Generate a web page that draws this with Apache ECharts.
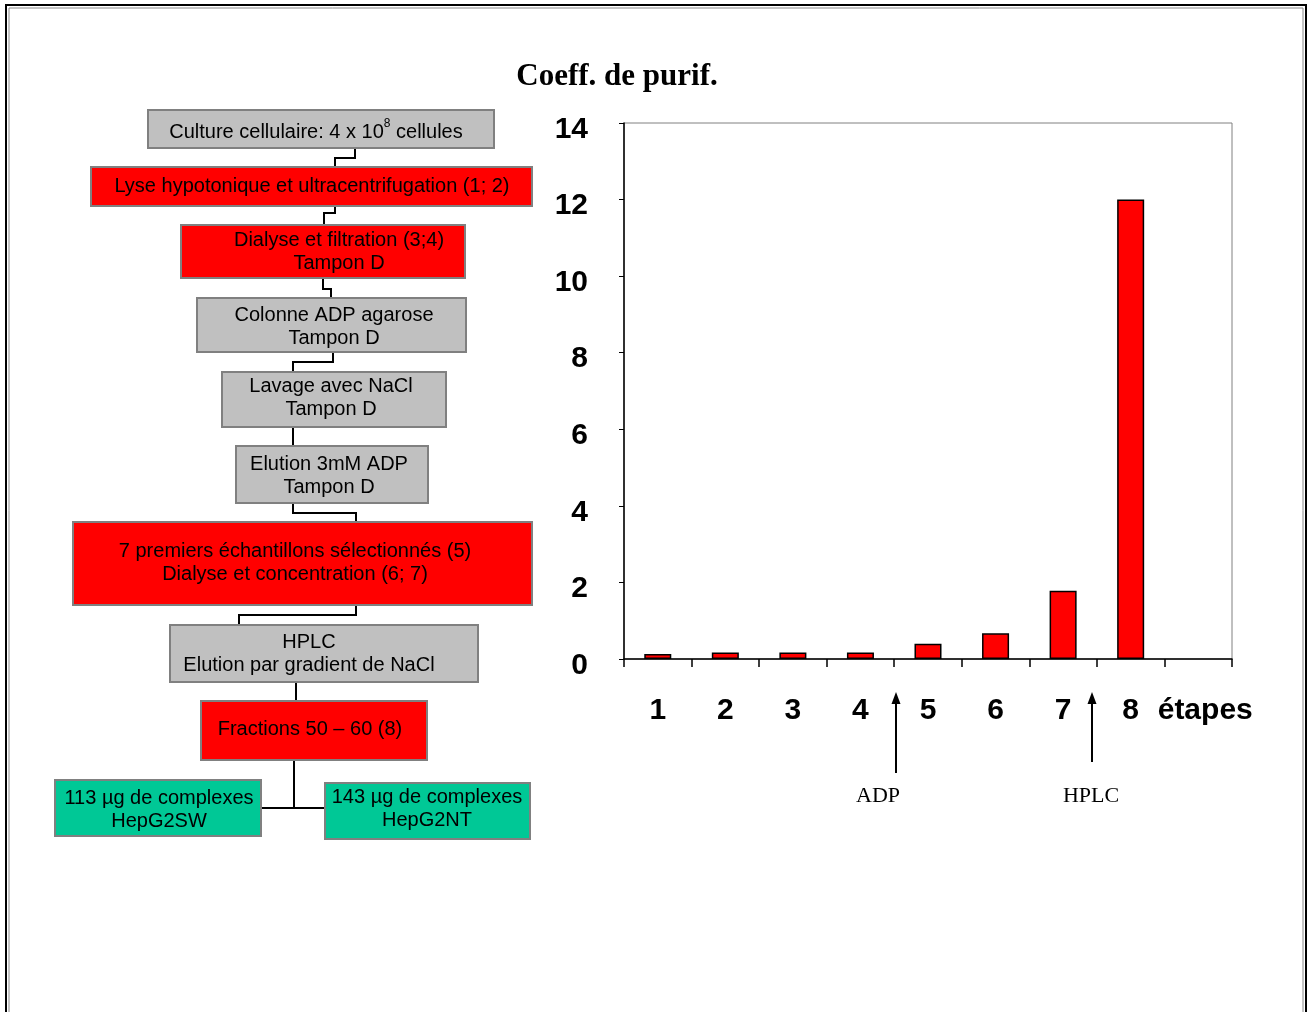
<!DOCTYPE html>
<html>
<head>
<meta charset="utf-8">
<script src="https://cdn.jsdelivr.net/npm/echarts@6/dist/echarts.min.js"></script>
<style>
html,body{margin:0;padding:0;background:#fff;}
#main{width:1312px;height:1012px;}
</style>
</head>
<body>
<div id="main"></div>
<script>
// ---- chart data ----
const categories = ['1', '2', '3', '4', '5', '6', '7', '8', 'étapes'];
const coeffValues = [0.13, 0.17, 0.17, 0.17, 0.40, 0.67, 1.78, 12.0];
const chartTitle = 'Coeff. de purif.';
const annotations = ['ADP', 'HPLC'];

// ---- flowchart texts ----
const flowTexts = [
  '{a|Culture cellulaire: 4 x 10}{s|8}{a| cellules}',
  'Lyse hypotonique et ultracentrifugation (1; 2)',
  'Dialyse et filtration (3;4)\nTampon D',
  'Colonne ADP agarose\nTampon D',
  'Lavage avec NaCl\nTampon D',
  'Elution 3mM ADP\nTampon D',
  '7 premiers échantillons sélectionnés (5)\nDialyse et concentration (6; 7)',
  'HPLC\nElution par gradient de NaCl',
  'Fractions 50 – 60 (8)',
  '113 µg de complexes\nHepG2SW',
  '143 µg de complexes\nHepG2NT'
];

// layout of the flowchart (x, y, w, h, fill, text centre)
const GRAY = '#c0c0c0', RED = '#ff0000', GREEN = '#00c896';
const boxLayout = [
  [148, 110, 346, 38, GRAY, 316, 130],
  [91, 167, 441, 39, RED, 312, 186],
  [181, 225, 284, 53, RED, 339, 252],
  [197, 298, 269, 54, GRAY, 334, 327],
  [222, 372, 224, 55, GRAY, 331, 398],
  [236, 446, 192, 57, GRAY, 329, 476],
  [73, 522, 459, 83, RED, 295, 563],
  [170, 625, 308, 57, GRAY, 309, 654],
  [201, 701, 226, 59, RED, 310, 729],
  [55, 780, 206, 56, GREEN, 159, 810],
  [325, 783, 205, 56, GREEN, 427, 809]
];
const connectors = [
  [[355,148],[355,158],[335,158],[335,167]],
  [[335,206],[335,213],[324,213],[324,225]],
  [[323,278],[323,289],[331,289],[331,298]],
  [[333,352],[333,362],[293,362],[293,372]],
  [[293,427],[293,446]],
  [[293,503],[293,513],[356,513],[356,522]],
  [[356,605],[356,615],[239,615],[239,625]],
  [[296,682],[296,701]],
  [[294,760],[294,808]],
  [[262,808],[325,808]]
];

const FONT = "'Liberation Sans', Arial, sans-serif";
const SERIF = "'Liberation Serif', 'Times New Roman', serif";

const graphics = [];
// outer frame
graphics.push({type:'rect', shape:{x:6,y:5,width:1300,height:1040}, style:{fill:'none', stroke:'#000', lineWidth:2}, silent:true});
graphics.push({type:'rect', shape:{x:9,y:8,width:1294,height:1040}, style:{fill:'none', stroke:'#888', lineWidth:1}, silent:true});

connectors.forEach(pts => graphics.push({
  type:'polyline', shape:{points:pts}, style:{stroke:'#000', lineWidth:2, fill:'none'}, z:5
}));

boxLayout.forEach((b, i) => {
  graphics.push({
    type:'rect', shape:{x:b[0], y:b[1], width:b[2], height:b[3]},
    style:{fill:b[4], stroke:'#808080', lineWidth:2}, z:10
  });
  const t = {
    type:'text', x:b[5], y:b[6], z:11,
    style:{text:flowTexts[i], font:'20px ' + FONT, fill:'#000', align:'center', verticalAlign:'middle', lineHeight:23}
  };
  if (i === 0) {
    t.style.rich = {
      a:{fontSize:20, fontFamily:FONT, lineHeight:24, verticalAlign:'bottom'},
      s:{fontSize:12, fontFamily:FONT, lineHeight:24, verticalAlign:'top', padding:[0,0,9,0]}
    };
  }
  graphics.push(t);
});

// title
graphics.push({type:'text', x:617, y:77, style:{text:chartTitle, font:'bold 31px ' + SERIF, fill:'#000', align:'center', verticalAlign:'middle'}});

// arrows
function arrow(x, y1, y2) {
  graphics.push({type:'line', shape:{x1:x, y1:y1, x2:x, y2:y2+8}, style:{stroke:'#000', lineWidth:2}});
  graphics.push({type:'polygon', shape:{points:[[x,y2],[x-4.5,y2+12],[x+4.5,y2+12]]}, style:{fill:'#000'}});
}
arrow(896, 773, 692);
arrow(1092, 762, 692);
graphics.push({type:'text', x:878, y:796, style:{text:annotations[0], font:'22px ' + SERIF, fill:'#000', align:'center', verticalAlign:'middle'}});
graphics.push({type:'text', x:1091, y:796, style:{text:annotations[1], font:'22px ' + SERIF, fill:'#000', align:'center', verticalAlign:'middle'}});

const chart = echarts.init(document.getElementById('main'));
chart.setOption({
  animation:false,
  backgroundColor:'#fff',
  grid:{left:624, right:80, top:123, bottom:353, show:true, borderColor:'#808080', borderWidth:1, containLabel:false},
  xAxis:{
    type:'category', data:categories, boundaryGap:true,
    axisLine:{lineStyle:{color:'#000', width:1.5}},
    axisTick:{show:true, interval:0, length:8, lineStyle:{color:'#000', width:1.5}},
    axisLabel:{
      interval:0, margin:37, color:'#000', fontSize:30, fontWeight:'bold', fontFamily:FONT,
      formatter: v => v === 'étapes' ? '{e|' + v + '}' : v,
      rich:{e:{fontSize:30, fontWeight:'bold', fontFamily:FONT, color:'#000', padding:[0,0,0,14]}}
    },
    splitLine:{show:false}
  },
  yAxis:{
    type:'value', min:0, max:14, interval:2,
    axisLine:{show:true, lineStyle:{color:'#000', width:1.5}},
    axisTick:{show:true, length:5, lineStyle:{color:'#000', width:1}},
    axisLabel:{
      margin:36, color:'#000', fontSize:30, fontWeight:'bold', fontFamily:FONT,
      formatter: v => '{v|' + v + '}',
      rich:{v:{fontSize:30, fontWeight:'bold', fontFamily:FONT, color:'#000', padding:[13,0,0,0]}}
    },
    splitLine:{show:false}
  },
  series:[{
    type:'bar', data:coeffValues, barWidth:'40%',
    itemStyle:{color:'#ff0000', borderColor:'#000', borderWidth:1.5}
  }],
  graphic:graphics
});
</script>
</body>
</html>
